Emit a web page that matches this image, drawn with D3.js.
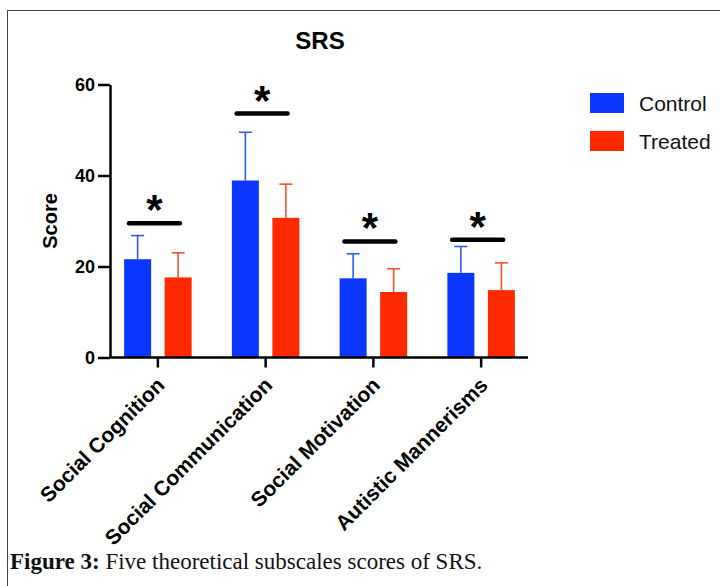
<!DOCTYPE html>
<html>
<head>
<meta charset="utf-8">
<script src="https://cdn.jsdelivr.net/npm/d3@7"></script>
<style>
  html, body { margin: 0; padding: 0; background: #fff; }
  svg { display: block; }
</style>
</head>
<body>
<div id="chart"></div>
<script>
// Data
const categories = ["Social Cognition", "Social Communication", "Social Motivation", "Autistic Mannerisms"];
const groups = ["Control", "Treated"];
const controlMean = [21.6, 38.9, 17.4, 18.6];
const controlErr = [26.8, 49.5, 22.8, 24.4];   // top of error bar (mean + SD)
const treatedMean = [17.6, 30.7, 14.4, 14.8];
const treatedErr = [23.0, 38.1, 19.5, 20.8];
const sigLevel = [29.5, 53.6, 25.5, 25.9];     // height of significance bar
const yTicks = [0, 20, 40, 60];

const W = 720, H = 586;
const FONT = "'Liberation Sans', Arial, Helvetica, sans-serif";
const COLORS = { Control: "#0a36ff", Treated: "#ff2a00" };
const ERR_COLORS = { Control: "#3358f2", Treated: "#f2512f" };

const svg = d3.select("#chart").append("svg")
    .attr("width", W).attr("height", H)
    .attr("viewBox", `0 0 ${W} ${H}`);

// Figure frame (extends past right and bottom edges)
svg.append("rect")
    .attr("x", 7.5).attr("y", 10.5)
    .attr("width", W + 20).attr("height", H + 20)
    .attr("fill", "none")
    .attr("stroke", "#444").attr("stroke-width", 1);

const axisX = 110, plotTop = 84.5, plotBottom = 357.5;

const y = d3.scaleLinear().domain([0, 60]).range([plotBottom, plotTop]);
const x = d3.scaleBand().domain(categories).range([104, 535]);
const xInner = d3.scaleBand().domain(groups).range([-33.75, 33.75]).paddingInner(1 / 3);

const rows = categories.map((c, i) => ({
    cat: c,
    vals: [
        { g: "Control", mean: controlMean[i], err: controlErr[i] },
        { g: "Treated", mean: treatedMean[i], err: treatedErr[i] }
    ],
    sig: sigLevel[i]
}));

const center = c => x(c) + x.bandwidth() / 2;

// Title
svg.append("text")
    .attr("x", 320).attr("y", 49)
    .attr("text-anchor", "middle")
    .attr("font-family", FONT).attr("font-weight", "bold")
    .attr("font-size", 24)
    .text("SRS");

// Bars
const g = svg.append("g");
const grp = g.selectAll("g.grp").data(rows).join("g")
    .attr("class", "grp")
    .attr("transform", d => `translate(${center(d.cat)},0)`);

grp.selectAll("line.stem").data(d => d.vals).join("line")
    .attr("class", "stem")
    .attr("x1", d => xInner(d.g) + xInner.bandwidth() / 2)
    .attr("x2", d => xInner(d.g) + xInner.bandwidth() / 2)
    .attr("y1", d => y(d.mean)).attr("y2", d => y(d.err))
    .attr("stroke", d => ERR_COLORS[d.g]).attr("stroke-width", 1.6);

grp.selectAll("line.cap").data(d => d.vals).join("line")
    .attr("class", "cap")
    .attr("x1", d => xInner(d.g) + xInner.bandwidth() / 2 - 6.5)
    .attr("x2", d => xInner(d.g) + xInner.bandwidth() / 2 + 6.5)
    .attr("y1", d => y(d.err)).attr("y2", d => y(d.err))
    .attr("stroke", d => ERR_COLORS[d.g]).attr("stroke-width", 1.6);

grp.selectAll("rect").data(d => d.vals).join("rect")
    .attr("x", d => xInner(d.g))
    .attr("width", xInner.bandwidth())
    .attr("y", d => y(d.mean))
    .attr("height", d => y(0) - y(d.mean))
    .attr("fill", d => COLORS[d.g]);

// Significance bars and stars
grp.append("line")
    .attr("x1", -29).attr("x2", 22)
    .attr("y1", d => y(d.sig)).attr("y2", d => y(d.sig))
    .attr("stroke", "#000").attr("stroke-width", 4.5)
    .attr("stroke-linecap", "round");

grp.append("text")
    .attr("x", -3.5)
    .attr("y", d => y(d.sig) + 1)
    .attr("text-anchor", "middle")
    .attr("font-family", FONT).attr("font-weight", "bold")
    .attr("font-size", 42)
    .text("*");

// Axes
const yAxis = svg.append("g")
    .attr("transform", `translate(${axisX},0)`)
    .call(d3.axisLeft(y).tickValues(yTicks).tickSize(12).tickSizeOuter(0).tickPadding(3));
yAxis.select(".domain").attr("stroke-width", 2.5).attr("stroke", "#000");
yAxis.selectAll(".tick line").attr("stroke-width", 2.5);
yAxis.selectAll(".tick text")
    .attr("font-family", FONT).attr("font-weight", "bold")
    .attr("font-size", 18).attr("fill", "#000")
    .attr("dy", "0.36em");

const xAxis = svg.append("g")
    .attr("transform", `translate(0,${plotBottom})`)
    .call(d3.axisBottom(x).tickSize(10).tickSizeOuter(0));
xAxis.select(".domain")
    .attr("d", `M${axisX - 1},0H528`)
    .attr("stroke-width", 2.5).attr("stroke", "#000");
xAxis.selectAll(".tick line").attr("stroke-width", 2.5);
xAxis.selectAll(".tick text")
    .attr("font-family", FONT).attr("font-weight", "bold")
    .attr("font-size", 21).attr("fill", "#000")
    .attr("text-anchor", "end")
    .attr("dy", 0).attr("y", 0)
    .attr("transform", "translate(8,29) rotate(-45)");

// Y axis title
svg.append("text")
    .attr("transform", "translate(57,221) rotate(-90)")
    .attr("text-anchor", "middle")
    .attr("font-family", FONT).attr("font-weight", "bold")
    .attr("font-size", 20)
    .text("Score");

// Legend
const legend = svg.append("g").selectAll("g").data(groups).join("g")
    .attr("transform", (d, i) => `translate(590,${93 + i * 38})`);
legend.append("rect")
    .attr("width", 34).attr("height", 20)
    .attr("fill", d => COLORS[d]);
legend.append("text")
    .attr("x", 49).attr("y", 10)
    .attr("dy", "0.36em")
    .attr("font-family", FONT).attr("font-size", 21)
    .attr("fill", "#111")
    .text(d => d);

// Caption
const cap = svg.append("text")
    .attr("x", 10).attr("y", 569)
    .attr("font-family", "'Liberation Serif', 'Times New Roman', serif")
    .attr("font-size", 23).attr("fill", "#111");
cap.append("tspan").attr("font-weight", "bold").text("Figure 3:");
cap.append("tspan").text(" Five theoretical subscales scores of SRS.");
</script>
</body>
</html>
